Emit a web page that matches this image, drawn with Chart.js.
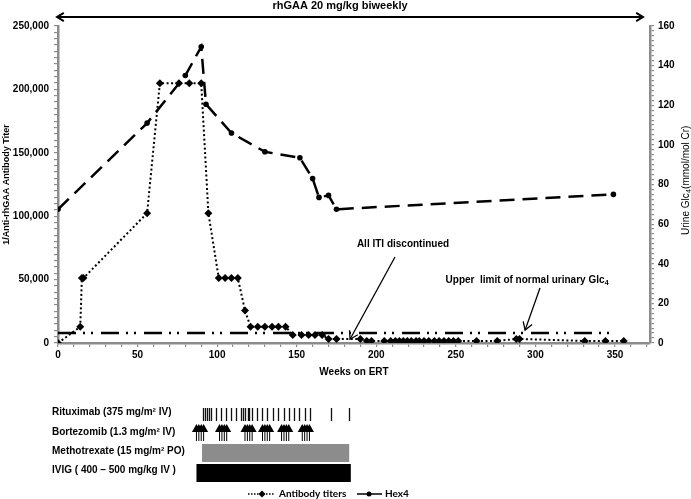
<!DOCTYPE html>
<html>
<head>
<meta charset="utf-8">
<script src="https://cdn.jsdelivr.net/npm/chart.js@4.4.1/dist/chart.umd.min.js"></script>
<style>
  html, body { margin: 0; padding: 0; background: #fff; }
  #wrap { width: 691px; height: 499px; position: relative; }
</style>
</head>
<body>
<div id="wrap"><canvas id="chart"></canvas></div>
<script>
// values
const titerWeeks = [0, 14, 15, 16, 56, 64, 76, 82.5, 90, 94.5, 101, 105, 109, 113, 117.5,
  121, 125.5, 130, 134.5, 138.5, 143, 147.5, 153, 157.5, 161.5, 166, 170, 175,
  190, 194, 197, 205, 209, 212, 214.5, 217, 219.5, 222, 225, 227, 230, 233, 236.5,
  239.5, 242.5, 245.5, 248.5, 251.5, 263, 276, 288, 290, 331, 344, 355.5];
const titerValues = [0, 12800, 51200, 51200, 102400, 204800, 204800, 204800, 204800, 102400, 51200, 51200, 51200, 51200, 25600,
  12800, 12800, 12800, 12800, 12800, 12800, 6400, 6400, 6400, 6400, 6400, 3200, 3200,
  3200, 1600, 1600, 1600, 1600, 1600, 1600, 1600, 1600, 1600, 1600, 1600, 1600, 1600, 1600,
  1600, 1600, 1600, 1600, 1600, 1600, 1600, 3200, 3200, 1600, 1600, 1600];

const hex4Weeks = [0, 56, 80, 90, 93, 109, 130, 152, 160, 164, 170, 175, 349];
const hex4Values = [67.5, 111, 135, 149.5, 120.5, 106, 96.5, 93.5, 83, 73.5, 74.5, 67.5, 75];

const upperLimitWeeks = [0, 347];
const upperLimitValues = [5, 5];

const weekTicks = [0, 50, 100, 150, 200, 250, 300, 350];
const titerTicks = [0, 50000, 100000, 150000, 200000, 250000];
const glcTicks = [0, 20, 40, 60, 80, 100, 120, 140, 160];

// treatment panel below the chart (weeks on ERT)
const treatmentLabels = ['Rituximab (375 mg/m\u00B2 IV)', 'Bortezomib (1.3 mg/m\u00B2 IV)',
  'Methotrexate (15 mg/m\u00B2 PO)', 'IVIG ( 400 \u2013 500 mg/kg IV )'];
const rituximabWeeks = [91, 92.3, 93.5, 94.8, 96, 99, 102.3, 105.5, 108.8, 112, 115.3, 116.5, 117.8,
  119.1, 120.3, 121.8, 125, 128.3, 131.6, 135, 138.4, 141.7, 145.1, 148.2, 151.6, 154.9, 158.3, 171.3, 182.8];
const bortezomibStarts = [87, 101.5, 117.5, 128.5, 140.5, 153.5];
const bortezomibOffsets = [0, 1.5, 3, 4.5];
const methotrexateSpan = [90.5, 183];
const ivigSpan = [87, 184];
const itiStopWeek = 183.5;
const glcArrowWeek = 293.5;

const FONT = '"Liberation Sans", Arial, sans-serif';
const AXIS_GREY = '#8c8c8c';

function pts(xs, ys) {
  return xs.map((w, i) => ({ x: w, y: ys[i] }));
}

function line(ctx, x0, y0, x1, y1) {
  ctx.beginPath();
  ctx.moveTo(x0, y0);
  ctx.lineTo(x1, y1);
  ctx.stroke();
}

// open "V" arrow head at (tx, ty), pointing away from (fx, fy)
function head(ctx, fx, fy, tx, ty, len) {
  const a = Math.atan2(ty - fy, tx - fx);
  const s = 0.55;
  ctx.beginPath();
  ctx.moveTo(tx - len * Math.cos(a - s), ty - len * Math.sin(a - s));
  ctx.lineTo(tx, ty);
  ctx.lineTo(tx - len * Math.cos(a + s), ty - len * Math.sin(a + s));
  ctx.stroke();
}

// text with a trailing subscript, centred on cx
function subText(ctx, main, sub, cx, cy, size, weight) {
  ctx.font = weight + ' ' + size + 'px ' + FONT;
  const w1 = ctx.measureText(main.a).width;
  const w3 = main.b ? ctx.measureText(main.b).width : 0;
  ctx.font = weight + ' ' + (size * 0.7) + 'px ' + FONT;
  const w2 = ctx.measureText(sub).width;
  const sx = cx - (w1 + w2 + w3) / 2;
  ctx.textAlign = 'left';
  ctx.textBaseline = 'middle';
  ctx.font = weight + ' ' + size + 'px ' + FONT;
  ctx.fillText(main.a, sx, cy);
  if (main.b) ctx.fillText(main.b, sx + w1 + w2 + 0.5, cy);
  ctx.font = weight + ' ' + (size * 0.7) + 'px ' + FONT;
  ctx.fillText(sub, sx + w1 + 0.3, cy + size * 0.3);
}

const overlay = {
  id: 'overlay',
  afterDraw(chart) {
    const { ctx, chartArea: area, scales: { x, y, y2 } } = chart;
    ctx.save();
    ctx.fillStyle = '#000';
    ctx.strokeStyle = '#000';
    ctx.lineCap = 'butt';

    // dosing arrow on top
    ctx.lineWidth = 2;
    const ay = 17, ax0 = area.left - 1, ax1 = area.right - 7;
    line(ctx, ax0, ay, ax1, ay);
    head(ctx, ax0 + 10, ay, ax0, ay, 8);
    head(ctx, ax1 - 10, ay, ax1, ay, 8);
    ctx.font = 'bold 11px ' + FONT;
    ctx.textAlign = 'center';
    ctx.textBaseline = 'middle';
    ctx.fillText('rhGAA 20 mg/kg biweekly', 340, 6);

    // x title
    ctx.font = 'bold 10px ' + FONT;
    ctx.fillText('Weeks on ERT', (area.left + area.right) / 2, 372);

    // right axis title, reading bottom to top
    ctx.save();
    ctx.translate(686, (area.top + area.bottom) / 2 - 4);
    ctx.rotate(-Math.PI / 2);
    subText(ctx, { a: 'Urine Glc', b: '(mmol/mol Cr)' }, '4', 0, 0, 10, 'normal');
    ctx.restore();

    // All ITI discontinued
    ctx.font = 'bold 10px ' + FONT;
    ctx.textAlign = 'center';
    ctx.textBaseline = 'middle';
    ctx.fillText('All ITI discontinued', 403, 244);
    const tx = x.getPixelForValue(itiStopWeek), ty = y.getPixelForValue(3000);
    ctx.lineWidth = 1.3;
    line(ctx, 395, 257, tx, ty);
    head(ctx, 395, 257, tx, ty, 9);

    // upper limit label with subscript
    subText(ctx, { a: 'Upper  limit of normal urinary Glc' }, '4', 527, 280, 10, 'bold');
    const gx = x.getPixelForValue(glcArrowWeek), gy = y2.getPixelForValue(6.5);
    line(ctx, 540, 288, gx, gy);
    head(ctx, 540, 288, gx, gy, 9);

    // treatment panel
    ctx.font = 'bold 10px ' + FONT;
    ctx.textAlign = 'left';
    ctx.textBaseline = 'middle';
    const rowsY = [412, 432, 451, 470];
    treatmentLabels.forEach((t, i) => ctx.fillText(t, 52, rowsY[i]));

    ctx.strokeStyle = '#111';
    ctx.lineWidth = 1.3;
    rituximabWeeks.forEach(w => {
      const px = Math.round(x.getPixelForValue(w)) + 0.5;
      line(ctx, px, 408, px, 421);
    });

    ctx.strokeStyle = '#000';
    bortezomibStarts.forEach(s => bortezomibOffsets.forEach(o => {
      const px = x.getPixelForValue(s + o);
      ctx.lineWidth = 1;
      line(ctx, px, 431, px, 441);
      ctx.beginPath();
      ctx.moveTo(px, 424);
      ctx.lineTo(px - 4.5, 432);
      ctx.lineTo(px + 4.5, 432);
      ctx.closePath();
      ctx.fill();
    }));

    const m0 = x.getPixelForValue(methotrexateSpan[0]), m1 = x.getPixelForValue(methotrexateSpan[1]);
    ctx.fillStyle = '#8c8c8c';
    ctx.fillRect(m0, 444, m1 - m0, 18);
    const i0 = x.getPixelForValue(ivigSpan[0]), i1 = x.getPixelForValue(ivigSpan[1]);
    ctx.fillStyle = '#000';
    ctx.fillRect(i0, 464, i1 - i0, 18);

    // legend
    const ly = 494;
    ctx.lineWidth = 1.5;
    ctx.setLineDash([1.5, 1.5]);
    line(ctx, 248, ly, 275, ly);
    ctx.setLineDash([]);
    ctx.beginPath();
    ctx.moveTo(262, ly - 3.5); ctx.lineTo(265.5, ly); ctx.lineTo(262, ly + 3.5); ctx.lineTo(258.5, ly);
    ctx.closePath();
    ctx.fill();
    ctx.lineWidth = 1.5;
    line(ctx, 357, ly, 382, ly);
    ctx.beginPath();
    ctx.arc(369, ly, 2.5, 0, Math.PI * 2);
    ctx.fill();
    ctx.font = 'bold 10px Lato, ' + FONT;
    ctx.fillText('Antibody titers', 279, ly);
    ctx.fillText('Hex4', 385, ly);

    ctx.restore();
  }
};

const tickFont = { family: FONT, size: 10, weight: 'bold' };
const gridOpts = { drawOnChartArea: false, tickLength: 4, color: AXIS_GREY, lineWidth: 1.2 };
const borderOpts = { color: AXIS_GREY, width: 2.5 };

new Chart(document.getElementById('chart'), {
  type: 'line',
  data: {
    datasets: [
      {
        label: 'Antibody titers',
        data: pts(titerWeeks, titerValues),
        yAxisID: 'y',
        borderColor: '#000',
        backgroundColor: '#000',
        borderWidth: 2,
        borderDash: [2, 2.5],
        pointStyle: 'rectRot',
        pointRadius: 4,
        pointBackgroundColor: '#000',
        pointBorderWidth: 0
      },
      {
        label: 'Hex4',
        data: pts(hex4Weeks, hex4Values),
        yAxisID: 'y2',
        borderColor: '#000',
        backgroundColor: '#000',
        borderWidth: 2.5,
        borderDash: [15, 8],
        pointStyle: 'circle',
        pointRadius: 2.8,
        pointBackgroundColor: '#000',
        pointBorderWidth: 0
      },
      {
        label: 'Upper limit',
        data: pts(upperLimitWeeks, upperLimitValues),
        yAxisID: 'y2',
        borderColor: '#000',
        borderWidth: 2.5,
        borderDash: [18, 7, 2, 6, 2, 8],
        pointRadius: 0
      }
    ]
  },
  options: {
    responsive: true,
    maintainAspectRatio: false,
    animation: false,
    layout: { padding: { top: 26, left: 0, right: 0, bottom: 0 } },
    plugins: { legend: { display: false }, tooltip: { enabled: false } },
    scales: {
      x: {
        type: 'linear', min: 0, max: 372,
        border: borderOpts, grid: gridOpts,
        ticks: {
          stepSize: 10, autoSkip: false, maxRotation: 0, includeBounds: false, padding: 2,
          font: tickFont, color: '#000',
          callback: v => weekTicks.includes(v) ? String(v) : ''
        },
        afterFit: s => { s.height = 156; }
      },
      y: {
        position: 'left', min: 0, max: 250000,
        border: borderOpts, grid: gridOpts,
        ticks: {
          stepSize: 5000, autoSkip: false, padding: 5, font: tickFont, color: '#000',
          callback: v => titerTicks.includes(v) ? v.toLocaleString('en-US') : ''
        },
        title: { display: true, text: '1/Anti-rhGAA Antibody Titer', color: '#000',
          font: { family: FONT, size: 9, weight: 'bold' }, padding: { top: 1, bottom: 0 } },
        afterFit: s => { s.width = 58; }
      },
      y2: {
        position: 'right', min: 0, max: 160,
        border: borderOpts, grid: gridOpts,
        ticks: {
          stepSize: 2.5, autoSkip: false, padding: 4, font: tickFont, color: '#000',
          callback: v => glcTicks.includes(v) ? String(v) : ''
        },
        afterFit: s => { s.width = 41; }
      }
    }
  },
  plugins: [overlay]
});
</script>
</body>
</html>
